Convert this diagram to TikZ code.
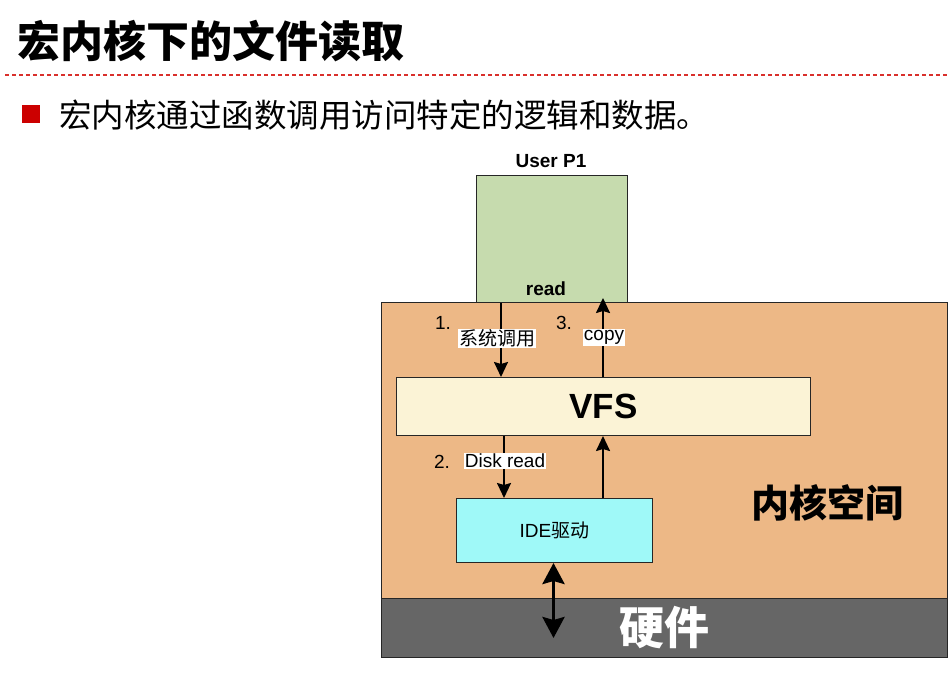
\documentclass[tikz,border=0pt]{standalone}
\usepackage{fontspec}
\setmainfont{Liberation Sans}
\newfontfamily\cjk{Noto Sans CJK SC}
\usetikzlibrary{positioning,arrows.meta}
\definecolor{userfill}{HTML}{C6DBAE}
\definecolor{kernelfill}{HTML}{EDB886}
\definecolor{vfsfill}{HTML}{FBF3D6}
\definecolor{idefill}{HTML}{9FF9F8}
\definecolor{hwfill}{HTML}{666666}
\definecolor{rulered}{HTML}{D9302C}
\definecolor{dotred}{HTML}{CC0000}
\tikzset{
	>={Stealth[length=15pt,width=14pt,inset=2pt]},
	box/.style={
		rectangle,
		draw=black!85, line width=1pt,
		inner sep=0pt,
		anchor=north west},
	flow/.style={->, line width=2pt},
	bothway/.style={{Stealth[length=21pt,width=22pt,inset=3pt]}-{Stealth[length=21pt,width=22pt,inset=3pt]}, line width=3.5pt},
	tag/.style={fill=white, inner sep=1pt, font=\fontsize{19}{20}\selectfont},
	stepnum/.style={font=\fontsize{19}{20}\selectfont, inner sep=0pt},
	heading/.style={font=\bfseries\fontsize{19}{20}\selectfont, inner sep=0pt},
	rule/.style={draw=rulered, line width=1.2pt, dash pattern=on 4pt off 3pt},
}

\begin{document}
\begin{tikzpicture}[x=1pt,y=-1pt]
	\useasboundingbox (0,0) rectangle (949,677);
	% heading of the slide
	\node[anchor=base west, inner sep=0pt, font=\cjk\bfseries\fontsize{43}{43}\selectfont] (title) at (17,57) {宏内核下的文件读取};
	\draw[rule] (5,75) -- (949,75);
	\node[fill=dotred, minimum size=18pt, inner sep=0pt] (dot) at (31,114) {};
	\node[anchor=base west, inner sep=0pt, font=\cjk\fontsize{32.5}{33}\selectfont] (intro) at (59,127) {宏内核通过函数调用访问特定的逻辑和数据。};
	% boxes
	\node[box, fill=userfill, minimum width=151pt, minimum height=127pt] (user) at (476,175) {};
	\node[heading] (username) at (551,161) {User P1};
	\node[heading] (readlbl) at (546,289) {read};
	\node[box, fill=kernelfill, minimum width=566pt, minimum height=296pt] (kernel) at (381,302) {};
	\node[box, fill=hwfill, minimum width=566pt, minimum height=59pt, text=white, font=\cjk\bfseries\fontsize{45}{45}\selectfont] (hw) at (381,598) {硬件};
	\node[box, fill=vfsfill, minimum width=414pt, minimum height=58pt, font=\bfseries\fontsize{35}{35}\selectfont] (vfs) at (396,377) {VFS};
	\node[box, fill=idefill, minimum width=196pt, minimum height=64pt, font=\fontsize{19}{20}\selectfont] (ide) at (456,498) {IDE{\cjk 驱动}};
	\node[font=\cjk\bfseries\fontsize{38}{38}\selectfont] (kernellbl) at (827,503) {内核空间};
	% connectors
	\draw[flow] ([xshift=25pt]user.south west) -- ([xshift=25pt]user.south west |- vfs.north)
		node[tag, pos=0.48, xshift=-4pt] (tag1) {\cjk 系统调用};
	\draw[flow] ([xshift=-25pt]user.south east |- vfs.north) -- ([xshift=-25pt,yshift=5pt]user.south east)
		node[tag, pos=0.5, xshift=1pt] (tag3) {copy};
	\draw[flow] ([xshift=48pt]ide.north west |- vfs.south) -- ([xshift=48pt]ide.north west)
		node[tag, pos=0.4, xshift=1pt] (tag2) {Disk read};
	\draw[flow] ([xshift=-50pt]ide.north east) -- ([xshift=-50pt]ide.north east |- vfs.south);
	\coordinate (hwend) at ([yshift=-75pt]ide.south);
	\draw[bothway] ([xshift=-1pt]ide.south) -- ([xshift=-1pt]hwend);
	\node[stepnum] (n1) at (443,323) {1.};
	\node[stepnum] (n3) at (564,323) {3.};
	\node[stepnum] (n2) at (442,462) {2.};
\end{tikzpicture}
\end{document}
